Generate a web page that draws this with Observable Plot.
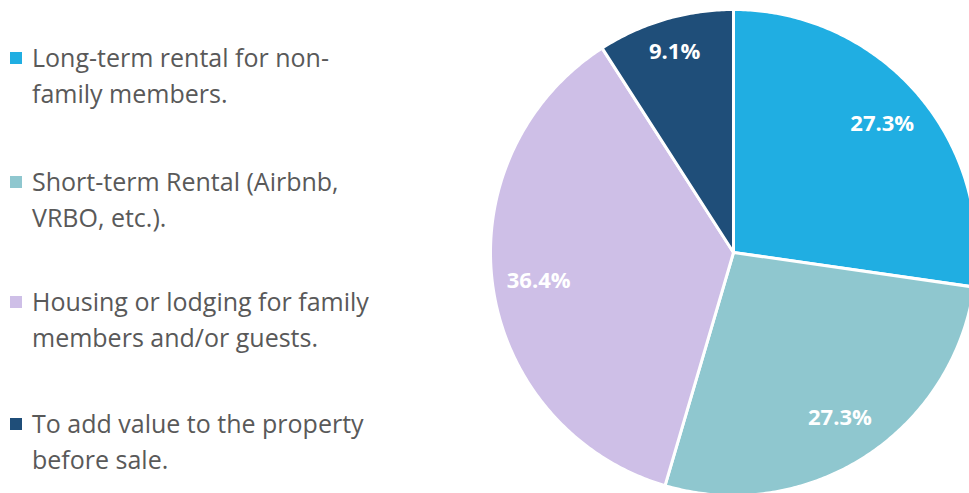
<!DOCTYPE html>
<html>
<head>
<meta charset="utf-8">
<script src="https://cdn.jsdelivr.net/npm/d3@7"></script>
<script src="https://cdn.jsdelivr.net/npm/@observablehq/plot@0.6"></script>
<style>
  html, body { margin: 0; padding: 0; background: #fff; }
  #wrap { position: relative; width: 969px; height: 493px; overflow: hidden; }
  #legend { position: absolute; left: 0; top: 0; font-family: "Open Sans", sans-serif; color: #595959; font-size: 25px; }
  .item { position: absolute; left: 32px; width: 400px; line-height: 36px; white-space: nowrap; }
  .sw { position: absolute; left: -22px; top: 13px; width: 12px; height: 12px; }
</style>
</head>
<body>
<div id="wrap">
  <div id="chart"></div>
  <div id="legend"></div>
</div>
<script>
const categories = [
  "Long-term rental for non-family members.",
  "Short-term Rental (Airbnb, VRBO, etc.).",
  "Housing or lodging for family members and/or guests.",
  "To add value to the property before sale."
];
const legendLines = [
  ["Long-term rental for non-", "family members."],
  ["Short-term Rental (Airbnb,", "VRBO, etc.)."],
  ["Housing or lodging for family", "members and/or guests."],
  ["To add value to the property", "before sale."]
];
const values = [27.3, 27.3, 36.4, 9.1];
const labels = ["27.3%", "27.3%", "36.4%", "9.1%"];
const colors = ["#20AEE2", "#8FC7CF", "#CEBFE7", "#1F4E79"];

const W = 969, H = 493;
const cx = 733, cy = 252, R = 243;

const arcs = d3.pie().sort(null).value(d => d)(values);
const poly = [];
arcs.forEach((a, i) => {
  poly.push({k: categories[i], x: 0, y: 0});
  const n = Math.max(2, Math.ceil((a.endAngle - a.startAngle) / 0.01));
  for (let j = 0; j <= n; j++) {
    const t = a.startAngle + (a.endAngle - a.startAngle) * j / n;
    poly.push({k: categories[i], x: Math.sin(t), y: Math.cos(t)});
  }
});
const lab = arcs.map((a, i) => {
  const m = (a.startAngle + a.endAngle) / 2;
  const f = values[i] < 15 ? 0.86 : 0.81;
  return {t: labels[i], x: f * Math.sin(m), y: f * Math.cos(m)};
});

const chart = Plot.plot({
  width: W, height: H,
  margin: 0,
  x: {domain: [(0 - cx) / R, (W - cx) / R], axis: null},
  y: {domain: [(cy - H) / R, cy / R], axis: null},
  color: {domain: categories, range: colors},
  marks: [
    Plot.line(poly, {x: "x", y: "y", z: "k", fill: "k", stroke: "white", strokeWidth: 3, curve: "linear-closed", strokeLinejoin: "round"}),
    Plot.text(lab, {x: "x", y: "y", text: "t", fill: "white", fontSize: 22, fontWeight: "bold", fontFamily: "Open Sans, sans-serif"})
  ]
});
document.getElementById("chart").appendChild(chart);

const tops = [39, 163, 283, 405];
const leg = document.getElementById("legend");
legendLines.forEach((ls, i) => {
  const d = document.createElement("div");
  d.className = "item";
  d.style.top = tops[i] + "px";
  d.innerHTML = `<span class="sw" style="background:${colors[i]}"></span>` + ls.join("<br>");
  leg.appendChild(d);
});
</script>
</body>
</html>
